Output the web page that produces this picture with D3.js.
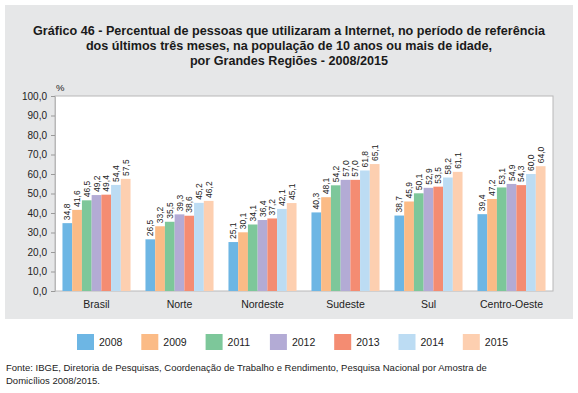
<!DOCTYPE html>
<html>
<head>
<meta charset="utf-8">
<script src="https://cdn.jsdelivr.net/npm/d3@7"></script>
<style>
  body { margin: 0; background: #fff; }
  text { font-family: "Liberation Sans", Arial, sans-serif; }
</style>
</head>
<body>
<script>
// Regions and years
var regions = ["Brasil", "Norte", "Nordeste", "Sudeste", "Sul", "Centro-Oeste"];
var years = ["2008", "2009", "2011", "2012", "2013", "2014", "2015"];

// Values per year (one entry per region)
var v2008 = [34.8, 26.5, 25.1, 40.3, 38.7, 39.4];
var v2009 = [41.6, 33.2, 30.1, 48.1, 45.9, 47.2];
var v2011 = [46.5, 35.5, 34.1, 54.2, 50.1, 53.1];
var v2012 = [49.2, 39.3, 36.4, 57.0, 52.9, 54.9];
var v2013 = [49.4, 38.6, 37.2, 57.0, 53.5, 54.3];
var v2014 = [54.4, 45.2, 42.1, 61.8, 58.2, 60.0];
var v2015 = [57.5, 46.2, 45.1, 65.1, 61.1, 64.0];

var colors = ["#6db6e4", "#fbbb86", "#7dc79a", "#b3abd5", "#f48c72", "#bcdcf3", "#fdcfb0"];
var yTicks = [0, 10, 20, 30, 40, 50, 60, 70, 80, 90, 100];

var series = [v2008, v2009, v2011, v2012, v2013, v2014, v2015];

var width = 578, height = 393;
var fmt = function (v) { return d3.format(".1f")(v).replace(".", ","); };

var svg = d3.select("body")
    .append("svg")
    .attr("width", width)
    .attr("height", height);

// Gray background panel
svg.append("rect")
    .attr("x", 5).attr("y", 5)
    .attr("width", 568).attr("height", 314)
    .attr("fill", "#e6e7e8");

// Title
var titleLines = [
    "Gráfico 46 - Percentual de pessoas que utilizaram a Internet, no período de referência",
    "dos últimos três meses, na população de 10 anos ou mais de idade,",
    "por Grandes Regiões - 2008/2015"
];
svg.selectAll(".title")
    .data(titleLines)
    .enter()
    .append("text")
    .attr("class", "title")
    .attr("x", 289)
    .attr("y", function (d, i) { return 35 + i * 15; })
    .attr("text-anchor", "middle")
    .attr("font-size", "13px")
    .attr("font-weight", "bold")
    .attr("fill", "#1a1a1a")
    .attr("transform", "translate(289,0) scale(0.97,1) translate(-289,0)")
    .text(function (d) { return d; });

// Plot area
var pLeft = 55, pRight = 553, pTop = 96, pBottom = 291;

svg.append("rect")
    .attr("x", pLeft).attr("y", pTop)
    .attr("width", pRight - pLeft).attr("height", pBottom - pTop)
    .attr("fill", "#fff")
    .attr("stroke", "#b8b8b8")
    .attr("stroke-width", 1);

var x0 = d3.scaleBand()
    .domain(regions)
    .range([pLeft, pRight])
    .paddingInner(0.18)
    .paddingOuter(0.09);

var x1 = d3.scaleBand()
    .domain(years)
    .range([0, x0.bandwidth()]);

var y = d3.scaleLinear()
    .domain([0, 100])
    .range([pBottom, pTop]);

// Y axis
var yAxis = svg.append("g")
    .attr("transform", "translate(" + pLeft + ",0)")
    .call(d3.axisLeft(y).tickValues(yTicks).tickSize(4).tickPadding(4).tickFormat(fmt));
yAxis.select(".domain").attr("stroke", "#b8b8b8");
yAxis.selectAll(".tick line").attr("stroke", "#999");
yAxis.selectAll(".tick text")
    .attr("font-size", "10px")
    .attr("fill", "#222")
    .attr("font-family", "Liberation Sans, Arial, sans-serif");

svg.append("text")
    .attr("x", 56).attr("y", 91)
    .attr("font-size", "9.5px")
    .attr("fill", "#222")
    .text("%");

// Bars
var groups = svg.selectAll(".region")
    .data(regions)
    .enter()
    .append("g")
    .attr("transform", function (d) { return "translate(" + x0(d) + ",0)"; });

groups.each(function (r, ri) {
    var g = d3.select(this);
    years.forEach(function (yr, yi) {
        var v = series[yi][ri];
        g.append("rect")
            .attr("x", x1(yr))
            .attr("y", y(v))
            .attr("width", x1.bandwidth())
            .attr("height", pBottom - y(v))
            .attr("fill", colors[yi]);
        var cx = x1(yr) + x1.bandwidth() / 2 + 3;
        g.append("text")
            .attr("transform", "translate(" + cx + "," + (y(v) - 3) + ") rotate(-90)")
            .attr("font-size", "8.5px")
            .attr("fill", "#222")
            .text(fmt(v));
    });
});

// Region labels
svg.selectAll(".rlabel")
    .data(regions)
    .enter()
    .append("text")
    .attr("x", function (d) { return x0(d) + x0.bandwidth() / 2; })
    .attr("y", 308)
    .attr("text-anchor", "middle")
    .attr("font-size", "10.5px")
    .attr("fill", "#222")
    .text(function (d) { return d; });

// Legend
var legend = svg.selectAll(".legend")
    .data(years)
    .enter()
    .append("g")
    .attr("transform", function (d, i) { return "translate(" + (77 + i * 64.3) + ",334)"; });
legend.append("rect")
    .attr("width", 17).attr("height", 16)
    .attr("fill", function (d, i) { return colors[i]; });
legend.append("text")
    .attr("x", 22).attr("y", 12)
    .attr("font-size", "10.5px")
    .attr("fill", "#222")
    .text(function (d) { return d; });

// Source
var source = [
    "Fonte: IBGE, Diretoria de Pesquisas, Coordenação de Trabalho e Rendimento, Pesquisa Nacional por Amostra de",
    "Domicílios 2008/2015."
];
svg.selectAll(".src")
    .data(source)
    .enter()
    .append("text")
    .attr("x", 6)
    .attr("y", function (d, i) { return 371 + i * 13; })
    .attr("font-size", "9.8px")
    .attr("fill", "#222")
    .attr("transform", "translate(6,0) scale(0.97,1) translate(-6,0)")
    .text(function (d) { return d; });
</script>
</body>
</html>
